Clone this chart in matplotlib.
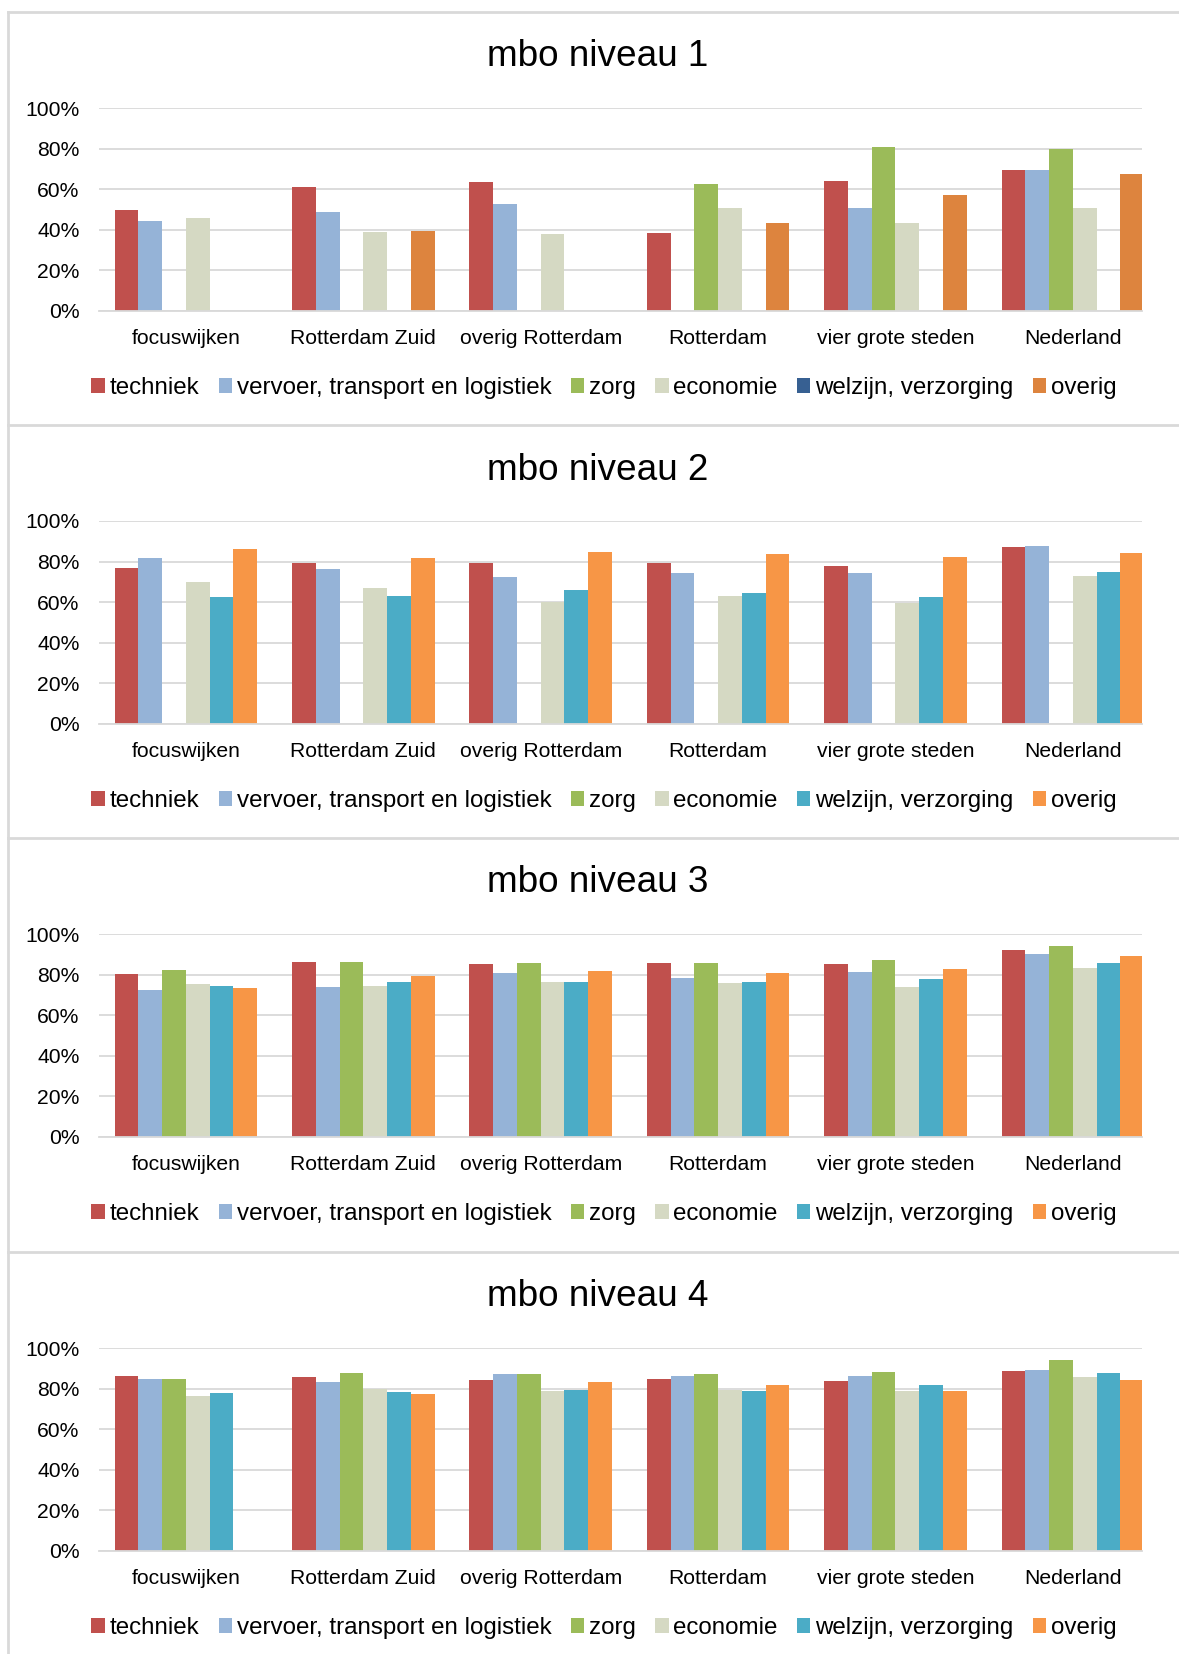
import numpy as np
import matplotlib.pyplot as plt
from matplotlib.patches import Patch
from matplotlib.lines import Line2D

plt.rcParams['font.family'] = ['Liberation Sans', 'DejaVu Sans']

categories = ["focuswijken", "Rotterdam Zuid", "overig Rotterdam", "Rotterdam",
              "vier grote steden", "Nederland"]
series = ["techniek", "vervoer, transport en logistiek", "zorg", "economie",
          "welzijn, verzorging", "overig"]
titles = ["mbo niveau 1", "mbo niveau 2", "mbo niveau 3", "mbo niveau 4"]
ytick_vals = [0, 20, 40, 60, 80, 100]
ytick_labels = ["0%", "20%", "40%", "60%", "80%", "100%"]

nan = np.nan
# rows = series (same order as `series`), columns = categories
niveau1 = [
    [50, 61, 63.5, 38.5, 64, 69.5],
    [44.5, 49, 52.5, nan, 50.5, 69.5],
    [nan, nan, nan, 62.5, 81, 80],
    [46, 39, 38, 50.5, 43.5, 50.5],
    [nan, nan, nan, nan, nan, nan],
    [nan, 39.5, nan, 43.5, 57, 67.5],
]
niveau2 = [
    [76.7, 79.5, 79.4, 79.5, 78, 87],
    [81.7, 76.6, 72.6, 74.3, 74.6, 87.5],
    [nan, nan, nan, nan, nan, nan],
    [69.8, 67.2, 60.2, 62.9, 59.7, 72.8],
    [62.5, 62.9, 66, 64.4, 62.4, 75.1],
    [86.3, 81.8, 84.7, 83.7, 82.3, 84.2],
]
niveau3 = [
    [80.4, 86, 85.4, 85.5, 85, 91.9],
    [72.4, 74, 80.9, 78.5, 81.1, 90.3],
    [82.4, 86.2, 85.7, 85.9, 87.2, 94.2],
    [75.3, 74.2, 76.6, 75.7, 73.7, 83.2],
    [74.5, 76.6, 76.3, 76.5, 77.8, 85.7],
    [73.2, 79.1, 81.7, 80.9, 82.7, 89],
]
niveau4 = [
    [86.3, 85.5, 84, 84.5, 83.9, 88.8],
    [84.8, 83.4, 87.3, 86, 86, 89.3],
    [84.7, 87.6, 87, 87.3, 88, 93.9],
    [76.6, 79.9, 78.6, 79.2, 78.7, 85.5],
    [77.8, 78.4, 79.1, 78.7, 81.9, 87.6],
    [nan, 77.4, 83.4, 81.9, 78.9, 84.3],
]
levels = [niveau1, niveau2, niveau3, niveau4]

colors_std = ["#C0504D", "#95B3D7", "#9BBB59", "#D5D9C3", "#4BACC6", "#F79646"]
colors_lvl1 = ["#C0504D", "#95B3D7", "#9BBB59", "#D5D9C3", "#376092", "#DD843E"]
grid_c = "#D9D9D9"

W, H = 1179, 1654
fig = plt.figure(figsize=(W / 100, H / 100), dpi=100)

panel_tops = [12, 425, 838, 1252]
x = np.arange(len(categories))
w = 0.134

for i, data in enumerate(levels):
    top = panel_tops[i]
    cols = colors_lvl1 if i == 0 else colors_std

    # panel border
    fig.add_artist(Line2D([8 / W, 1.01], [1 - top / H] * 2, color=grid_c, lw=2.0))
    fig.add_artist(Line2D([8 / W] * 2, [1 - top / H, 1 - (top + 413) / H],
                          color=grid_c, lw=2.0))

    ax = fig.add_axes([99 / W, 1 - (top + 299) / H, (1142 - 99) / W, 203 / H])
    for j, vals in enumerate(data):
        ax.bar(x + (j - 2.5) * w, vals, width=w, color=cols[j], zorder=3)

    ax.set_xlim(-0.49, 5.39)
    ax.set_ylim(0, 100)
    ax.set_yticks(ytick_vals)
    ax.set_yticklabels(ytick_labels)
    ax.set_xticks(x)
    ax.set_xticklabels(categories)
    ax.tick_params(axis='both', length=0, labelsize=15.2, colors="#000000")
    ax.tick_params(axis='y', pad=14)
    ax.tick_params(axis='x', pad=13)
    ax.grid(axis='y', color=grid_c, lw=1.3, zorder=0)
    for s in ["top", "right", "left"]:
        ax.spines[s].set_visible(False)
    ax.spines["bottom"].set_color(grid_c)
    ax.spines["bottom"].set_linewidth(1.3)
    ax.spines["bottom"].set_zorder(4)

    fig.text(598 / W, 1 - (top + 45) / H, titles[i], fontsize=26.6,
             ha='center', va='center')

    handles = [Patch(facecolor=c) for c in cols]
    fig.legend(handles, series, loc='center', ncol=6,
               bbox_to_anchor=(604 / W, 1 - (top + 376) / H),
               frameon=False, fontsize=17.4, handlelength=0.55, handleheight=0.55,
               handletextpad=0.2, columnspacing=0.8, borderpad=0)

fig.savefig("out.png", dpi=100, facecolor="white")
